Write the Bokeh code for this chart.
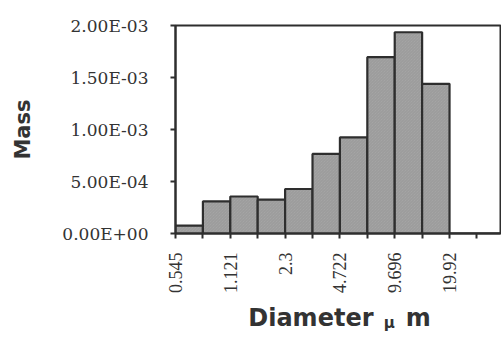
import numpy as np
from bokeh.plotting import figure
from bokeh.layouts import column
from bokeh.models import Range1d, FixedTicker, CustomJSTickFormatter
from bokeh.core.properties import value
from bokeh.embed import file_html
from bokeh.resources import INLINE

# bin edge labels (every other edge is labelled)
edge_labels = {0: "0.545", 2: "1.121", 4: "2.3", 6: "4.722", 8: "9.696", 10: "19.92"}
bin_index = list(range(12))
mass = [7.5e-5, 3.08e-4, 3.56e-4, 3.25e-4, 4.28e-4, 7.65e-4,
        9.24e-4, 1.695e-3, 1.935e-3, 1.439e-3, 0.0, 0.0]
y_ticks = [0.0, 5e-4, 1e-3, 1.5e-3, 2e-3]
title_parts = ["Diameter", "μ", "m"]

INK = "#2e2e2e"
TXT = "#333333"

p = figure(width=501, height=300, output_backend="svg", toolbar_location=None,
           x_range=Range1d(0, 11.86), y_range=Range1d(0, 2e-3),
           min_border_left=175, min_border_right=1, min_border_top=25, min_border_bottom=67)
p.background_fill_color = "white"
p.border_fill_color = "white"
p.grid.visible = False
p.outline_line_color = INK
p.outline_line_width = 2

centers = np.array(bin_index) + 0.5
p.vbar(x=centers, width=1.0, top=mass, bottom=0,
       fill_color="#a8a8a8", line_color=INK, line_width=2.2,
       hatch_pattern="left_diagonal_line", hatch_color="#8a8a8a",
       hatch_scale=3, hatch_weight=1, hatch_alpha=0.5)

# y axis
ya = p.yaxis[0]
ya.ticker = FixedTicker(ticks=y_ticks)
ya.formatter = CustomJSTickFormatter(code="""
const s = tick.toExponential(2);
const parts = s.split("e");
let e = parts[1];
const sign = e[0] == "-" ? "-" : "+";
let d = e.replace("-", "").replace("+", "");
if (d.length < 2) d = "0" + d;
return parts[0] + "E" + sign + d;
""")
ya.axis_line_color = INK
ya.axis_line_width = 2
ya.major_tick_line_color = INK
ya.major_tick_line_width = 2
ya.major_tick_out = 5
ya.major_tick_in = 0
ya.minor_tick_line_color = None
ya.major_label_text_font = "DejaVu Serif"
ya.major_label_text_font_size = "17px"
ya.major_label_text_color = TXT
ya.major_label_standoff = 22
ya.axis_label = "Mass"
ya.axis_label_text_font = "DejaVu Sans"
ya.axis_label_text_font_style = "bold"
ya.axis_label_text_font_size = "21px"
ya.axis_label_text_color = TXT
ya.axis_label_standoff = 24

# x axis
xa = p.xaxis[0]
xa.ticker = FixedTicker(ticks=bin_index)
xa.major_label_overrides = {i: edge_labels.get(i, "") for i in bin_index}
xa.major_label_orientation = np.pi / 2
xa.axis_line_color = INK
xa.axis_line_width = 2
xa.major_tick_line_color = INK
xa.major_tick_line_width = 2
xa.major_tick_out = 5
xa.major_tick_in = 0
xa.minor_tick_line_color = None
xa.major_label_text_font = "Liberation Serif"
xa.major_label_text_font_size = "18px"
xa.major_label_text_color = TXT
xa.major_label_standoff = 14

# x axis title strip: "Diameter" with subscript mu, then "m".
# Its frame is aligned with the chart frame (starts at the y axis), units = pixels.
t = figure(width=501, height=38, output_backend="svg", toolbar_location=None,
           x_axis_location=None, y_axis_location=None,
           x_range=Range1d(0, 326), y_range=Range1d(0, 38),
           min_border_left=175, min_border_right=0, min_border_top=0, min_border_bottom=0)
t.grid.visible = False
t.outline_line_color = None
t.background_fill_color = "white"
t.border_fill_color = "white"
t.text(x=[73], y=[21], text=[title_parts[0]], text_font=value("DejaVu Sans"),
       text_font_style="bold", text_font_size="24px", text_color=TXT,
       text_baseline="alphabetic", text_align="left")
t.text(x=[209], y=[15.5], text=[title_parts[1]], text_font=value("DejaVu Sans"),
       text_font_style="bold", text_font_size="15px", text_color=TXT,
       text_baseline="alphabetic", text_align="left")
t.text(x=[231], y=[21], text=[title_parts[2]], text_font=value("DejaVu Sans"),
       text_font_style="bold", text_font_size="24px", text_color=TXT,
       text_baseline="alphabetic", text_align="left")

layout = column(p, t, spacing=0)
open("out.html", "w").write(file_html(layout, INLINE))
